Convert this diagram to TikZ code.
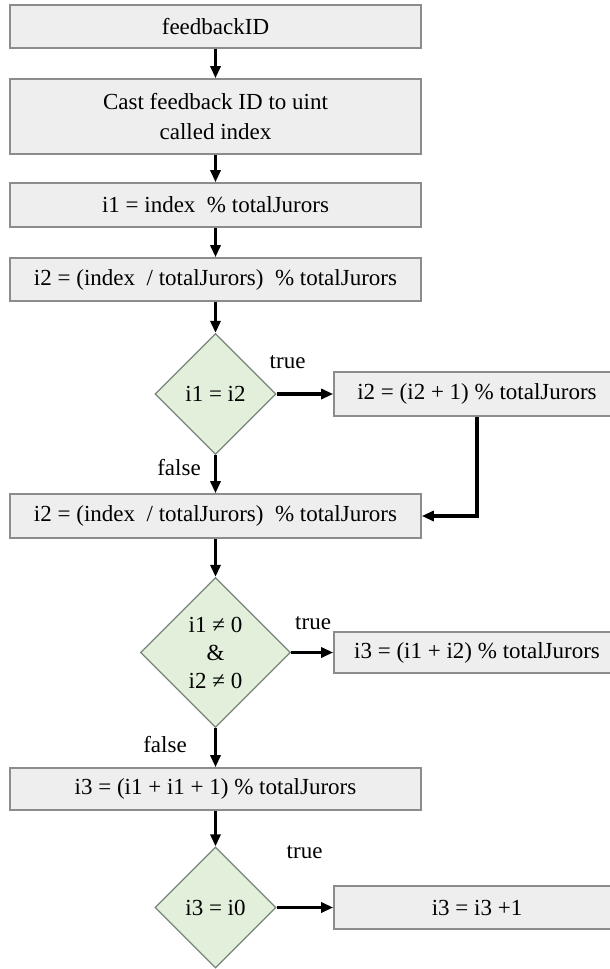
\documentclass[tikz,border=0pt]{standalone}
\usepackage{fontspec}
\setmainfont{Liberation Serif}
\usepackage{tikz}
\usetikzlibrary{arrows.meta}
\usetikzlibrary{positioning}
\usetikzlibrary{shapes.geometric}
\definecolor{boxgray}{HTML}{EEEEEE}
\definecolor{boxline}{HTML}{8C8C8C}
\definecolor{decgreen}{HTML}{E2EFDA}
\definecolor{decline}{HTML}{77847A}
\tikzstyle{every node}+=[inner sep=0pt]
\tikzstyle{block} = [rectangle, draw=boxline, fill=boxgray, line width=0.8pt, text centered, align=center, minimum width=205.5pt, minimum height=21.5pt, font=\fontsize{11.5}{15}\selectfont]
\tikzstyle{sideblock} = [block, minimum width=143pt, minimum height=22pt]
\tikzstyle{decision} = [diamond, aspect=1, draw=decline, fill=decgreen, line width=0.6pt, align=center, minimum width=60.5pt, minimum height=60.5pt, font=\fontsize{11.5}{14}\selectfont]
\tikzstyle{line} = [draw, -{Triangle[length=6pt,width=5pt]}, line width=1.6pt]
\tikzstyle{value} = [font=\fontsize{11.5}{14}\selectfont]

\begin{document}
\begin{tikzpicture}[node distance = 2cm, auto]
            \useasboundingbox (0,0) rectangle (305pt,-484.5pt);
            % Place nodes
            \node [block] (n0) at (107.75pt,-13.25pt) {feedbackID};
            \node [block, below of=n0, node distance=45pt, minimum height=37.5pt] (n1) {Cast feedback ID to uint\\called index};
            \node [block, below of=n1, node distance=44.25pt, minimum height=22pt] (n2) {i1 = index \ \% totalJurors};
            \node [block, below of=n2, node distance=37.25pt] (n3) {i2 = (index \ / totalJurors) \ \% totalJurors};
            \node [decision, below of=n3, node distance=57.25pt] (d1) {i1 = i2};
            \node [sideblock, right of=d1, node distance=130.75pt] (r1) {i2 = (i2 + 1) \% totalJurors};
            \node [block, below of=d1, node distance=61pt, minimum height=22pt] (n4) {i2 = (index \ / totalJurors) \ \% totalJurors};
            \node [decision, below of=n4, node distance=68.25pt, minimum width=75pt, minimum height=75pt] (d2) {i1 ≠ 0\\\&\\i2 ≠ 0};
            \node [sideblock, right of=d2, node distance=130.75pt, minimum height=20.5pt] (r2) {i3 = (i1 + i2) \% totalJurors};
            \node [block, below of=d2, node distance=68.25pt, minimum height=21pt] (n5) {i3 = (i1 + i1 + 1) \% totalJurors};
            \node [decision, below of=n5, node distance=59.25pt] (d3) {i3 = i0};
            \node [sideblock, right of=d3, node distance=130.75pt, minimum height=21.5pt] (r3) {i3 = i3 +1};
            % Branch labels
            \node [value] (t1) at ([shift={(5.5pt,16pt)}]d1.east) {true};
            \node [value] (f1) at ([shift={(-18.25pt,-6pt)}]d1.south) {false};
            \node [value] (t2) at ([shift={(11pt,14.5pt)}]d2.east) {true};
            \node [value] (f2) at ([shift={(-25.25pt,-8pt)}]d2.south) {false};
            \node [value] (t3) at ([shift={(14pt,27.5pt)}]d3.east) {true};
            % Draw edges
            \path [line] (n0) -- (n1);
            \path [line] (n1) -- (n2);
            \path [line] (n2) -- (n3);
            \path [line] (n3) -- (d1);
            \path [line] (d1) -- (r1);
            \path [line] (d1) -- (n4);
            \path [line] (r1) |- (n4);
            \path [line] (n4) -- (d2);
            \path [line] (d2) -- (r2);
            \path [line] (d2) -- (n5);
            \path [line] (n5) -- (d3);
            \path [line] (d3) -- (r3);
          \end{tikzpicture}
\end{document}
